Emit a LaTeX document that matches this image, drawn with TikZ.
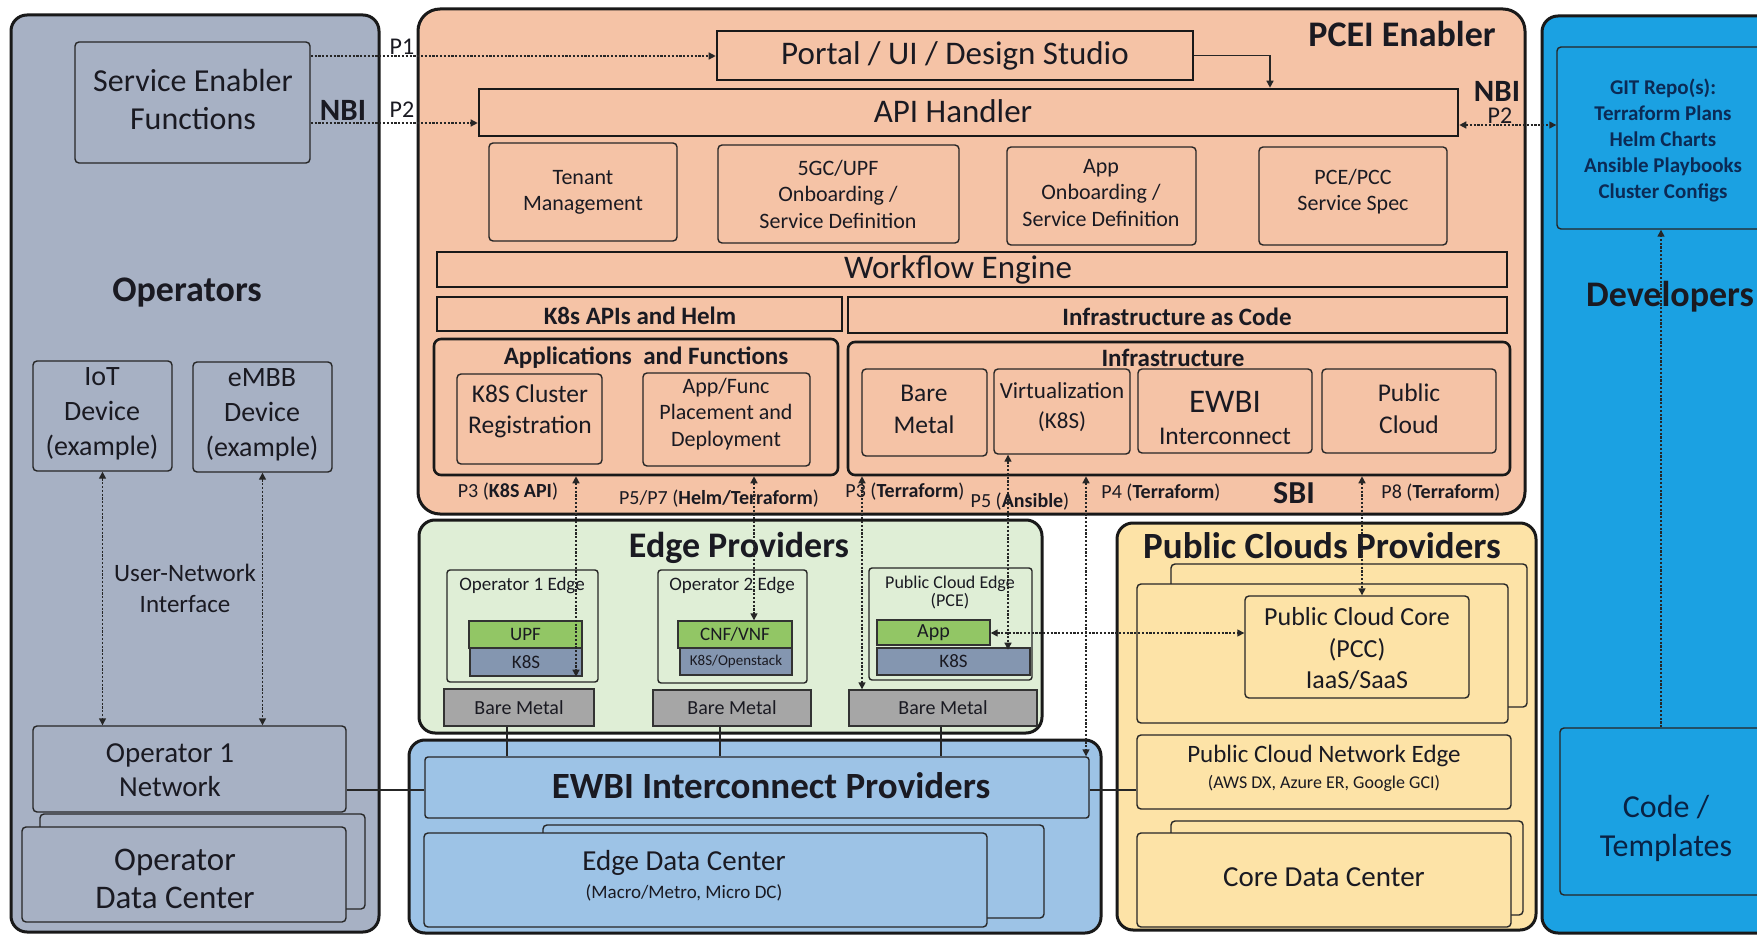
\documentclass[tikz,border=0pt]{standalone}
\usepackage{fontspec}
\setmainfont{Carlito}
\usetikzlibrary{fit,arrows.meta}
\definecolor{opfill}{HTML}{A7B1C4}
\definecolor{pceifill}{HTML}{F5C3A6}
\definecolor{devfill}{HTML}{1BA1E2}
\definecolor{edgefill}{HTML}{DFEED6}
\definecolor{pubfill}{HTML}{FDE3A7}
\definecolor{ewbifill}{HTML}{9DC3E6}
\definecolor{greenbox}{HTML}{92C665}
\definecolor{k8sbox}{HTML}{8496B0}
\definecolor{bmbox}{HTML}{A6A6A6}
\definecolor{txt}{HTML}{1A1A22}
\definecolor{gittxt}{HTML}{0B2A55}
\newcommand{\fsz}[2]{\fontsize{#1}{#2}\selectfont}
\begin{document}
\begin{tikzpicture}[x=1pt,y=-1pt,
  every node/.style={text=txt, inner sep=0pt, align=center},
  panel/.style={draw=black!90, line width=3pt, rounded corners=16pt},
  hbox/.style={draw=black!90, line width=2.6pt, fill=pceifill},
  ibox/.style={draw=black!85, line width=1.4pt, rounded corners=4pt},
  layer/.style={draw=black!80, line width=1.4pt},
  dotline/.style={draw=black!85, line width=1.4pt, dash pattern=on 2.2pt off 1.6pt},
  oneway/.style={dotline, -{Triangle[length=7pt,width=7pt]}},
  twoway/.style={dotline, {Triangle[length=7pt,width=7pt]}-{Triangle[length=7pt,width=7pt]}},
  conn/.style={draw=black!85, line width=1.4pt}]
\useasboundingbox (0,0) rectangle (1757,936);
\clip (0,0) rectangle (1757,936);
\fill[white] (0,0) rectangle (1757,936);

% helper coordinates
\coordinate (yP1) at (0,56);
\coordinate (yP2) at (0,123);
\coordinate (yP2r) at (0,125);
\coordinate (xPA) at (1270,0);
\coordinate (xK8) at (576,0);
\coordinate (xHT) at (754,0);
\coordinate (xTF) at (862,0);
\coordinate (xAN) at (1008,0);
\coordinate (xP4) at (1086,0);
\coordinate (xP8) at (1362,0);
\coordinate (xGIT) at (1661,0);
\coordinate (yH) at (0,633);
\coordinate (yNet) at (0,790);

% ================= Operators =================
\node[panel, fill=opfill, fit={(11,15) (379,932)}] (ops) {};
\node[font={\bfseries\fsz{36}{40}}] (opsT) at (187,293) {Operators};
\node[ibox, fill=opfill, fit={(75,42) (310,163)}] (se) {};
\node[font={\fsz{32}{38}}] (seT) at (193,100) {Service Enabler\\Functions};
\node[font={\bfseries\fsz{31}{31}}] (nbiL) at (343,110) {NBI};
\node[font={\fsz{24}{24}}] (p1) at (402,47) {P1};
\node[font={\fsz{24}{24}}] (p2) at (402,110) {P2};
\node[ibox, fill=opfill, fit={(33,361) (172,471)}] (iot) {};
\node[font={\fsz{28}{35}}] (iotT) at (102,414) {IoT\\Device\\(example)};
\node[ibox, fill=opfill, fit={(193,362) (332,472)}] (embb) {};
\node[font={\fsz{28}{35}}] (embbT) at (262,415) {eMBB\\Device\\(example)};
\node[font={\fsz{25}{31}}] (uni) at (185,588) {User-Network\\Interface};
\node[ibox, fill=opfill, fit={(33,726) (346,812)}] (op1net) {};
\node[font={\fsz{29}{34}}] (op1netT) at (170,770) {Operator 1\\Network};
\node[ibox, fill=opfill, fit={(40,814) (365,909)}] (opdcb) {};
\node[ibox, fill=opfill, fit={(22,827) (346,922)}] (opdc) {};
\node[font={\fsz{33}{38}}] (opdcT) at (175,879) {Operator\\Data Center};
\draw[twoway] (iot.south) -- (iot.south |- op1net.north);
\draw[twoway] (embb.south) -- (embb.south |- op1net.north);

% ================= PCEI Enabler =================
\node[panel, fill=pceifill, rounded corners=22pt, fit={(418,9) (1525,514)}] (pcei) {};
\node[font={\bfseries\fsz{36}{40}}] (pceiT) at (1402,34) {PCEI Enabler};
\node[hbox, fit={(717,31) (1193,80)}] (portal) {};
\node[font={\fsz{33}{36}}] (portalT) at (955,56) {Portal / UI / Design Studio};
\node[hbox, fit={(479,89) (1458,136)}] (api) {};
\node[font={\fsz{33}{36}}] (apiT) at (953,111) {API Handler};
\node[font={\bfseries\fsz{31}{31}}] (nbiR) at (1497,91) {NBI};
\node[font={\fsz{24}{24}}] (p2r) at (1500,116) {P2};
\node[ibox, fill=pceifill, fit={(489,143) (677,241)}] (tenant) {};
\node[font={\fsz{22}{26}}] (tenantT) at (583,192) {Tenant\\Management};
\node[ibox, fill=pceifill, fit={(718,145) (959,243)}] (fivegc) {};
\node[font={\fsz{22}{26.5}}] (fivegcT) at (838,194) {5GC/UPF\\Onboarding /\\Service Definition};
\node[ibox, fill=pceifill, fit={(1007,147) (1196,245)}] (apponb) {};
\node[font={\fsz{22}{26.5}}] (apponbT) at (1101,193) {App\\Onboarding /\\Service Definition};
\node[ibox, fill=pceifill, fit={(1259,147) (1447,245)}] (pcespec) {};
\node[font={\fsz{22}{26}}] (pcespecT) at (1353,192) {PCE/PCC\\Service Spec};
\node[hbox, fit={(437,252) (1507,287)}] (wf) {};
\node[font={\fsz{33}{36}}] (wfT) at (958,270) {Workflow Engine};
\node[hbox, fit={(437,297) (842,331)}] (k8sapi) {};
\node[font={\bfseries\fsz{25}{28}}] (k8sapiT) at (640,316) {K8s APIs and Helm};
\node[hbox, fit={(848,297) (1507,333)}] (iac) {};
\node[font={\bfseries\fsz{25}{28}}] (iacT) at (1177,317) {Infrastructure as Code};
\node[hbox, rounded corners=7pt, fit={(434,339) (838,475)}] (apps) {};
\node[font={\bfseries\fsz{25}{28}}] (appsT) at (646,358) {Applications\ \ and Functions};
\node[ibox, fill=pceifill, fit={(457,374) (602,464)}] (k8sreg) {};
\node[font={\fsz{25.5}{31}}] (k8sregT) at (530,411) {K8S Cluster\\Registration};
\node[ibox, fill=pceifill, fit={(643,373) (810,466)}] (place) {};
\node[font={\fsz{22}{26.5}}] (placeT) at (726,414) {App/Func\\Placement and\\Deployment};
\node[hbox, rounded corners=7pt, fit={(848,342) (1510,475)}] (infra) {};
\node[font={\bfseries\fsz{25}{28}}] (infraT) at (1173,358) {Infrastructure};
\node[ibox, fill=pceifill, fit={(862,369) (987,456)}] (bmI) {};
\node[font={\fsz{25.5}{32}}] (bmIT) at (924,409) {Bare\\Metal};
\node[ibox, fill=pceifill, fit={(994,369) (1130,454)}] (virt) {};
\node[font={\fsz{23}{30}}] (virtT) at (1062,407) {Virtualization\\(K8S)};
\node[ibox, fill=pceifill, fit={(1138,369) (1312,453)}] (ewbiI) {};
\node[font={\fsz{33}{34}}] (ewbiT1) at (1225,402) {EWBI};
\node[font={\fsz{25.5}{28}}] (ewbiT2) at (1225,436) {Interconnect};
\node[ibox, fill=pceifill, fit={(1322,369) (1496,453)}] (pubI) {};
\node[font={\fsz{25.5}{32}}] (pubIT) at (1409,409) {Public\\Cloud};
\node[font={\fsz{20}{22}}] (lP3a) at (508,492) {P3 (\textbf{K8S API})};
\node[font={\fsz{20}{22}}] (lP5a) at (719,499) {P5/P7 (\textbf{Helm/Terraform})};
\node[font={\fsz{20}{22}}] (lP3b) at (905,492) {P3 (\textbf{Terraform})};
\node[font={\fsz{20}{22}}] (lP5b) at (1020,502) {P5 (\textbf{Ansible})};
\node[font={\fsz{20}{22}}] (lP4) at (1161,493) {P4 (\textbf{Terraform})};
\node[font={\bfseries\fsz{32}{34}}] (sbi) at (1294,493) {SBI};
\node[font={\fsz{20}{22}}] (lP8) at (1441,493) {P8 (\textbf{Terraform})};

% ================= Developers =================
\node[panel, fill=devfill, fit={(1542,16) (1800,933)}] (dev) {};
\node[ibox, fill=devfill, fit={(1557,47) (1800,229)}] (git) {};
\node[font={\bfseries\fsz{21}{26}}, text=gittxt] (gitT) at (1663,140) {GIT Repo(s):\\Terraform Plans\\Helm Charts\\Ansible Playbooks\\Cluster Configs};
\node[font={\bfseries\fsz{36}{40}}] (devT) at (1670,297) {Developers};
\node[ibox, fill=devfill, fit={(1560,728) (1800,895)}] (code) {};
\node[font={\fsz{32}{39}}, text=gittxt!80!black] (codeT) at (1666,828) {Code /\\Templates};

% ================= Edge Providers =================
\node[panel, fill=edgefill, fit={(419,520) (1042,733)}] (edge) {};
\node[font={\bfseries\fsz{36}{40}}] (edgeT) at (739,548) {Edge Providers};
\node[ibox, fill=edgefill, rounded corners=3pt, fit={(447,570) (598,682)}] (oe1) {};
\node[font={\fsz{19}{21}}] (oe1T) at (522,586) {Operator 1 Edge};
\node[layer, fill=greenbox, fit={(469,621) (582,648)}] (upf) {};
\node[font={\fsz{19}{21}}] (upfT) at (upf.center) {UPF};
\node[layer, fill=k8sbox, fit={(470,648) (582,676)}] (k8s1) {};
\node[font={\fsz{19}{21}}] (k8s1T) at (k8s1.center) {K8S};
\node[layer, fill=bmbox, fit={(444,689) (594,726)}] (bm1) {};
\node[font={\fsz{20}{22}}] (bm1T) at (bm1.center) {Bare Metal};
\node[ibox, fill=edgefill, rounded corners=3pt, fit={(658,570) (807,683)}] (oe2) {};
\node[font={\fsz{19}{21}}] (oe2T) at (732,586) {Operator 2 Edge};
\node[layer, fill=greenbox, fit={(678,621) (792,648)}] (cnf) {};
\node[font={\fsz{19}{21}}] (cnfT) at (cnf.center) {CNF/VNF};
\node[layer, fill=k8sbox, fit={(680,648) (792,675)}] (k8s2) {};
\node[font={\fsz{15}{17}}] (k8s2T) at (k8s2.center) {K8S/Openstack};
\node[layer, fill=bmbox, fit={(653,690) (811,726)}] (bm2) {};
\node[font={\fsz{20}{22}}] (bm2T) at (bm2.center) {Bare Metal};
\node[ibox, fill=edgefill, rounded corners=3pt, fit={(869,568) (1032,680)}] (pce) {};
\node[font={\fsz{18}{18}}] (pceT) at (950,592) {Public Cloud Edge\\(PCE)};
\node[layer, fill=greenbox, fit={(877,620) (990,645)}] (app) {};
\node[font={\fsz{20}{22}}] (appT) at (app.center) {App};
\node[layer, fill=k8sbox, fit={(877,648) (1030,675)}] (k8s3) {};
\node[font={\fsz{19}{21}}] (k8s3T) at (k8s3.center) {K8S};
\node[layer, fill=bmbox, fit={(849,690) (1037,726)}] (bm3) {};
\node[font={\fsz{20}{22}}] (bm3T) at (bm3.center) {Bare Metal};

% ================= EWBI Interconnect Providers =================
\node[panel, fill=ewbifill, fit={(409,740) (1101,933)}] (ewbiP) {};
\node[ibox, fill=ewbifill, rounded corners=3pt, fit={(425,757) (1089,818)}] (icx) {};
\node[font={\bfseries\fsz{37}{40}}] (icxT) at (771,786) {EWBI Interconnect Providers};
\node[ibox, fill=ewbifill, fit={(543,825) (1044,918)}] (edcb) {};
\node[ibox, fill=ewbifill, fit={(424,833) (987,927)}] (edc) {};
\node[font={\fsz{29}{32}}] (edcT1) at (684,863) {Edge Data Center};
\node[font={\fsz{19}{21}}] (edcT2) at (684,893) {(Macro/Metro, Micro DC)};

% ================= Public Clouds Providers =================
\node[panel, fill=pubfill, fit={(1117,523) (1536,930)}] (pub) {};
\node[font={\bfseries\fsz{37}{40}}] (pubT) at (1322,546) {Public Clouds Providers};
\node[ibox, fill=pubfill, fit={(1171,564) (1527,707)}] (pccb) {};
\node[ibox, fill=pubfill, fit={(1137,584) (1508,723)}] (pccf) {};
\node[ibox, fill=pubfill, fit={(1245,596) (1469,698)}] (pcc) {};
\node[font={\fsz{26}{31.5}}] (pccT) at (1357,649) {Public Cloud Core\\(PCC)\\IaaS/SaaS};
\node[ibox, fill=pubfill, fit={(1137,735) (1511,809)}] (pcne) {};
\node[font={\fsz{25}{28}}] (pcneT1) at (1324,756) {Public Cloud Network Edge};
\node[font={\fsz{18}{20}}] (pcneT2) at (1324,783) {(AWS DX, Azure ER, Google GCI)};
\node[ibox, fill=pubfill, fit={(1171,821) (1523,915)}] (cdcb) {};
\node[ibox, fill=pubfill, fit={(1137,833) (1511,927)}] (cdc) {};
\node[font={\fsz{29}{32}}] (cdcT) at (1324,877) {Core Data Center};

% ================= Connectors =================
\draw[oneway] (se.east |- yP1) -- (portal.west |- yP1);
\draw[oneway] (se.east |- yP2) -- (api.west |- yP2);
\draw[twoway] (api.east |- yP2r) -- (git.west |- yP2r);
\draw[conn, -{Triangle[length=7pt,width=7pt]}] (portal.east) -| (api.north -| xPA);
\draw[twoway] (apps.south -| xK8) -- (k8s1.south -| xK8);
\draw[twoway] (apps.south -| xHT) -- (cnf.north -| xHT);
\draw[twoway] (infra.south -| xTF) -- (bm3.north -| xTF);
\draw[twoway] (virt.south -| xAN) -- ([yshift=-4pt]app.south -| xAN);
\draw[twoway] (app.east |- yH) -- (pcc.west |- yH);
\draw[twoway] (infra.south -| xP4) -- (icx.north -| xP4);
\draw[twoway] (infra.south -| xP8) -- (pcc.north -| xP8);
\draw[oneway] (code.north -| xGIT) -- (git.south -| xGIT);
\draw[conn] ([xshift=-12pt]bm1.south) -- ([xshift=-12pt]bm1.south |- icx.north);
\draw[conn] ([xshift=-12pt]bm2.south) -- ([xshift=-12pt]bm2.south |- icx.north);
\draw[conn] ([xshift=-2pt]bm3.south) -- ([xshift=-2pt]bm3.south |- icx.north);
\draw[conn] (op1net.east |- yNet) -- (icx.west |- yNet);
\draw[conn] (icx.east |- yNet) -- (pcne.west |- yNet);
\end{tikzpicture}
\end{document}
